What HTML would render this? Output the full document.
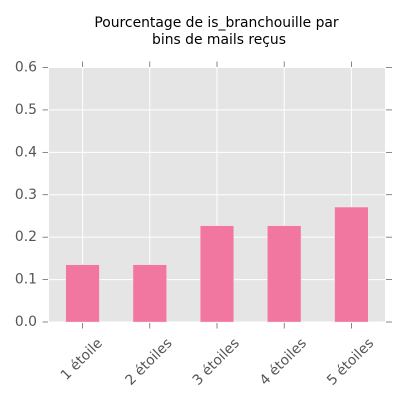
<!DOCTYPE html>
<html>
<head>
<meta charset="utf-8">
<style>
html,body{margin:0;padding:0;background:#fff;width:400px;height:400px;overflow:hidden}
svg{display:block}
text{font-family:"DejaVu Sans","Liberation Sans",sans-serif}
</style>
</head>
<body>
<svg id="chart" width="400" height="400" viewBox="0 0 400 400" xmlns="http://www.w3.org/2000/svg">
<rect width="400" height="400" fill="#fff"/>
<text x="216.5" y="27" font-size="13.9" text-anchor="middle" fill="#000">Pourcentage de is_branchouille par</text>
<text x="219" y="44" font-size="13.9" text-anchor="middle" fill="#000">bins de mails reçus</text>
</svg>
<script>
const categories = ['1 étoile', '2 étoiles', '3 étoiles', '4 étoiles', '5 étoiles'];
const seriesValues = [0.135, 0.135, 0.227, 0.227, 0.271];
const yTickValues = [0, 0.1, 0.2, 0.3, 0.4, 0.5, 0.6];
const yTickLabels = ['0.0', '0.1', '0.2', '0.3', '0.4', '0.5', '0.6'];

const NS = 'http://www.w3.org/2000/svg';
const svg = document.getElementById('chart');
const plot = {left: 49, right: 385, top: 67.5, bottom: 322};
const yMax = 0.6;
const band = (plot.right - plot.left) / categories.length;
const xScale = i => plot.left + band * (i + 0.5);
const yScale = v => plot.bottom - (v / yMax) * (plot.bottom - plot.top);

function make(tag, attrs, text) {
  const el = document.createElementNS(NS, tag);
  for (const k in attrs) el.setAttribute(k, attrs[k]);
  if (text !== undefined) el.textContent = text;
  svg.appendChild(el);
  return el;
}

const bg = make('rect', {x: plot.left, y: plot.top, width: plot.right - plot.left, height: plot.bottom - plot.top, fill: '#e5e5e5'});



yTickValues.forEach((v, i) => {
  const y = yScale(v);
  const grid = make('line', {x1: plot.left, x2: plot.right, y1: y, y2: y, stroke: '#fff', 'stroke-width': 1});
  
  
  const tl = make('line', {x1: plot.left - 6.5, x2: plot.left - 1, y1: y, y2: y, stroke: '#555', 'stroke-width': 0.7});
  
  
  const tr = make('line', {x1: plot.right + 1, x2: plot.right + 7, y1: y, y2: y, stroke: '#555', 'stroke-width': 0.7});
  
  
  const lab = make('text', {x: plot.left - 12, y: y + 4, 'font-size': 13.9, 'text-anchor': 'end', fill: '#555'}, yTickLabels[i]);
  
  
});

categories.forEach((c, i) => {
  const x = xScale(i);
  const grid = make('line', {x1: x, x2: x, y1: plot.top, y2: plot.bottom, stroke: '#fff', 'stroke-width': 1});
  
  
  const tt = make('line', {x1: x, x2: x, y1: plot.top - 6, y2: plot.top - 0.5, stroke: '#555', 'stroke-width': 0.7});
  
  
  const tb = make('line', {x1: x, x2: x, y1: plot.bottom + 1, y2: plot.bottom + 6.5, stroke: '#555', 'stroke-width': 0.7});
  
  
});

seriesValues.forEach((v, i) => {
  const w = band * 0.5;
  const bar = make('rect', {x: xScale(i) - w / 2, y: yScale(v), width: w, height: plot.bottom - yScale(v), fill: '#f277a0', stroke: '#f3e4ea', 'stroke-width': 0.4});
  
  
});

categories.forEach((c, i) => {
  const cx = xScale(i) - 1.5;
  const lab = make('text', {x: cx, y: 0, 'font-size': 13.9, 'text-anchor': 'middle', fill: '#555'}, c);
  
  
  const extent = (lab.getComputedTextLength() + 11) * Math.SQRT1_2;
  const cy = plot.bottom + 14.5 + extent / 2;
  lab.setAttribute('y', cy + 5);
  lab.setAttribute('transform', 'rotate(-45 ' + cx + ' ' + cy + ')');
});
</script>
</body>
</html>
